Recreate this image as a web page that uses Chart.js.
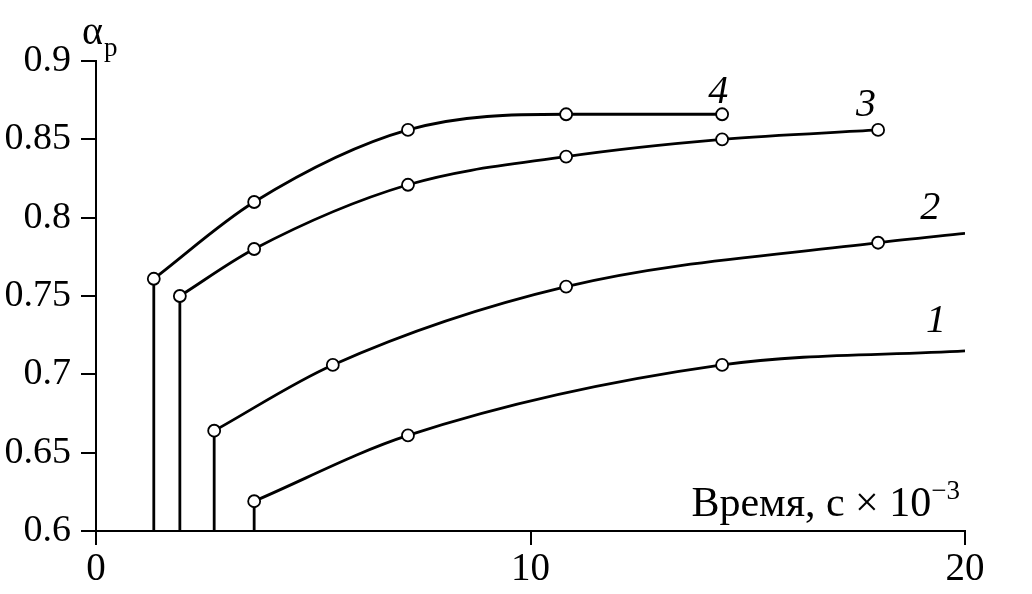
<!DOCTYPE html>
<html>
<head>
<meta charset="utf-8">
<script src="https://cdn.jsdelivr.net/npm/chart.js@4"></script>
<style>
    html, body { margin: 0; padding: 0; background: #fff; }
    #wrap { width: 1032px; height: 594px; position: relative; }
</style>
</head>
<body>
<div id="wrap"><canvas id="chart"></canvas></div>
<script>
// curve values (time ×10^-3 s, alpha_p)
const x1 = [3.64, 7.18, 14.41, 20];
const y1 = [0.619, 0.661, 0.706, 0.715];
const x2 = [2.72, 5.45, 10.82, 18.0, 20];
const y2 = [0.664, 0.706, 0.756, 0.784, 0.790];
const x3 = [1.93, 3.64, 7.18, 10.82, 14.41, 18.0];
const y3 = [0.750, 0.780, 0.821, 0.839, 0.850, 0.856];
const x4 = [1.33, 3.64, 7.18, 10.82, 14.41];
const y4 = [0.761, 0.810, 0.856, 0.866, 0.866];

const curveNames = ['1', '2', '3', '4'];
const xTicks = [0, 10, 20];
const yTicks = [0.6, 0.65, 0.7, 0.75, 0.8, 0.85, 0.9];

// where the curve numbers sit (data coords)
const labelX = [19.33, 19.2, 17.72, 14.32];
const labelY = [0.736, 0.808, 0.874, 0.882];

const serif = "'Liberation Serif', 'DejaVu Serif', serif";

const curves = [[x1, y1], [x2, y2], [x3, y3], [x4, y4]];

const datasets = [];
curves.forEach(([xs, ys], i) => {
    datasets.push({
        label: 'curve ' + curveNames[i],
        data: xs.map((x, k) => ({ x, y: ys[k] })),
        borderColor: '#000',
        borderWidth: 2.8,
        cubicInterpolationMode: 'monotone',
        pointRadius: (ctx) => (ctx.raw && ctx.raw.x >= 20 ? 0 : 6),
        pointBackgroundColor: '#fff',
        pointBorderColor: '#000',
        pointBorderWidth: 1.8,
        order: 0,
    });
    // vertical drop from the first point to the axis
    datasets.push({
        label: 'drop ' + curveNames[i],
        data: [{ x: xs[0], y: 0.6 }, { x: xs[0], y: ys[0] }],
        borderColor: '#000',
        borderWidth: 2.8,
        pointRadius: 0,
        order: 1,
    });
});

const annotations = {
    id: 'annotations',
    afterDatasetsDraw(chart) {
        const { ctx, scales } = chart;
        const xs = scales.x, ys = scales.y;
        ctx.save();
        ctx.fillStyle = '#000';
        ctx.textBaseline = 'alphabetic';

        // curve numbers
        ctx.font = 'italic 40px ' + serif;
        ctx.textAlign = 'center';
        curveNames.forEach((name, i) => {
            ctx.fillText(name, xs.getPixelForValue(labelX[i]), ys.getPixelForValue(labelY[i]) + 14);
        });

        // x axis title
        ctx.textAlign = 'left';
        ctx.font = '42px ' + serif;
        const main = 'Время, с × 10';
        const w = ctx.measureText(main).width;
        ctx.font = '27px ' + serif;
        const sup = '−3';
        const ws = ctx.measureText(sup).width;
        const right = 960;
        const base = 516;
        ctx.font = '42px ' + serif;
        ctx.fillText(main, right - ws - w, base);
        ctx.font = '27px ' + serif;
        ctx.fillText(sup, right - ws, base - 17);

        // y axis title
        ctx.font = '40px ' + serif;
        ctx.fillText('α', 82, 44);
        ctx.font = '27px ' + serif;
        ctx.fillText('p', 104, 56);
        ctx.restore();
    },
};

new Chart(document.getElementById('chart'), {
    type: 'line',
    data: { datasets },
    options: {
        responsive: true,
        maintainAspectRatio: false,
        animation: false,
        layout: { padding: { top: 61, right: 67, left: 0, bottom: 0 } },
        plugins: {
            legend: { display: false },
            tooltip: { enabled: false },
        },
        scales: {
            x: {
                type: 'linear',
                min: 0,
                max: 20,
                afterFit: (scale) => { scale.height = 63; },
                afterBuildTicks: (scale) => { scale.ticks = xTicks.map((v) => ({ value: v })); },
                border: { display: true, color: '#000', width: 2 },
                grid: { drawOnChartArea: false, color: '#000', lineWidth: 2, tickLength: 14 },
                ticks: {
                    color: '#000',
                    padding: 1,
                    maxRotation: 0,
                    font: { family: serif, size: 39 },
                    callback: (v) => String(v),
                },
            },
            y: {
                type: 'linear',
                min: 0.6,
                max: 0.9,
                afterFit: (scale) => { scale.width = 96; },
                afterBuildTicks: (scale) => { scale.ticks = yTicks.map((v) => ({ value: v })); },
                border: { display: true, color: '#000', width: 2 },
                grid: { drawOnChartArea: false, color: '#000', lineWidth: 2, tickLength: 15 },
                ticks: {
                    color: '#000',
                    padding: 10,
                    font: { family: serif, size: 38 },
                    callback: (v) => String(Number(v.toFixed(2))),
                },
            },
        },
    },
    plugins: [annotations],
});
</script>
</body>
</html>
